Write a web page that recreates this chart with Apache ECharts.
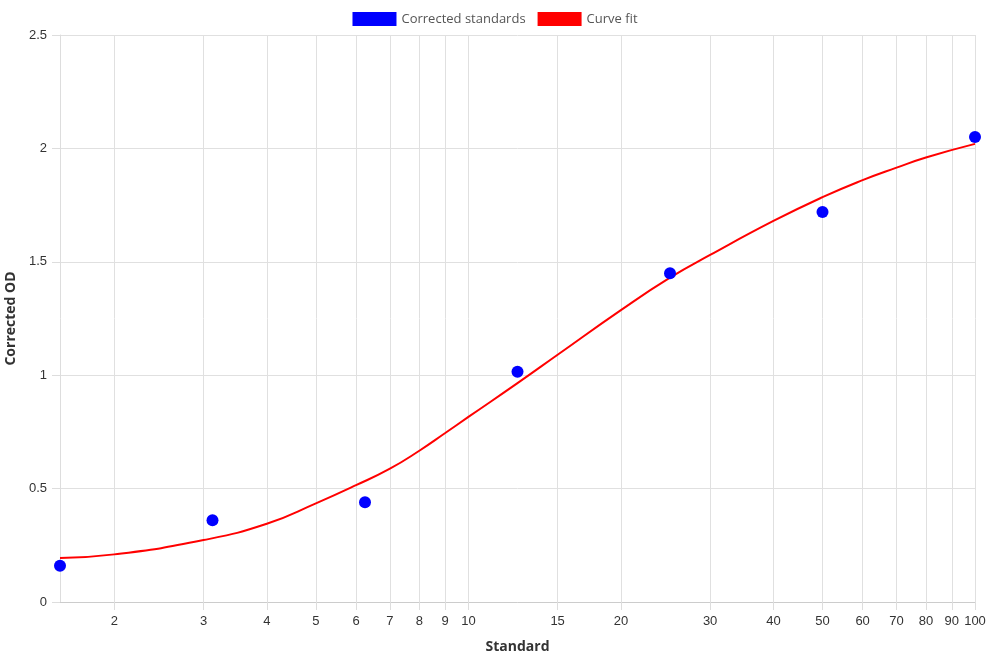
<!DOCTYPE html>
<html>
<head>
<meta charset="utf-8">
<script src="https://cdn.jsdelivr.net/npm/echarts@6/dist/echarts.min.js"></script>
<style>
  html, body { margin: 0; padding: 0; background: #fff; }
  #chart { width: 990px; height: 660px; }
</style>
</head>
<body>
<div id="chart"></div>
<script>
// standards (x) and corrected OD (y)
var stdX = [1.5625, 3.125, 6.25, 12.5, 25, 50, 100];
var stdY = [0.16, 0.36, 0.44, 1.015, 1.45, 1.72, 2.05];

// curve fit
var fitX = [1.5625, 2, 3, 4, 5, 6, 7, 8, 9, 10, 12.5, 15, 20, 25, 30, 40, 50, 60, 70, 80, 100];
var fitY = [0.194, 0.21, 0.273, 0.345, 0.435, 0.515, 0.588, 0.667, 0.745, 0.816, 0.965, 1.09, 1.287, 1.43, 1.53, 1.68, 1.785, 1.86, 1.915, 1.96, 2.02];

var xTicks = [2, 3, 4, 5, 6, 7, 8, 9, 10, 15, 20, 30, 40, 50, 60, 70, 80, 90, 100];

var chart = echarts.init(document.getElementById('chart'));

var labelFont = 'Liberation Sans';
var titleFont = 'Open Sans';

var option = {
    animation: false,
    legend: {
        top: 7,
        left: 'center',
        itemWidth: 44,
        itemHeight: 14,
        itemGap: 12,
        textStyle: { fontFamily: titleFont, fontSize: 13, color: '#555' },
        data: [
            { name: 'Corrected standards', icon: 'rect', itemStyle: { color: '#0000ff', opacity: 1 } },
            { name: 'Curve fit', icon: 'rect', itemStyle: { color: '#ff0000', opacity: 1 } }
        ]
    },
    grid: { left: 60, right: 15, top: 35, bottom: 58, outerBoundsMode: 'none' },
    xAxis: {
        type: 'log',
        min: 1.5625,
        max: 100,
        name: 'Standard',
        nameLocation: 'middle',
        nameGap: 38,
        nameTextStyle: { fontFamily: titleFont, fontWeight: 'bold', fontSize: 14, color: '#333' },
        axisLine: { lineStyle: { color: '#ccc' } },
        axisTick: { show: true, length: 8, lineStyle: { color: '#ddd' }, customValues: xTicks },
        axisLabel: { customValues: xTicks, fontFamily: labelFont, fontSize: 13, color: '#333', margin: 13 },
        splitLine: { show: true, lineStyle: { color: '#e0e0e0' } }
    },
    yAxis: {
        type: 'value',
        min: 0,
        max: 2.5,
        interval: 0.5,
        name: 'Corrected OD',
        nameLocation: 'middle',
        nameGap: 39,
        nameTextStyle: { fontFamily: titleFont, fontWeight: 'bold', fontSize: 14, color: '#333' },
        axisLine: { show: true, lineStyle: { color: '#ddd' } },
        axisTick: { show: true, length: 8, lineStyle: { color: '#ddd' } },
        axisLabel: { fontFamily: labelFont, fontSize: 13, color: '#333', margin: 13 },
        splitLine: { show: true, lineStyle: { color: '#e0e0e0' } }
    },
    series: [
        {
            name: 'Corrected standards',
            type: 'scatter',
            symbolSize: 12,
            itemStyle: { color: '#0000ff', opacity: 1 },
            data: stdX.map(function (x, i) { return [x, stdY[i]]; }),
            z: 3
        },
        {
            name: 'Curve fit',
            type: 'line',
            smooth: 0.5,
            showSymbol: false,
            lineStyle: { color: '#ff0000', width: 2 },
            itemStyle: { color: '#ff0000' },
            data: fitX.map(function (x, i) { return [x, fitY[i]]; }),
            z: 2
        }
    ]
};

chart.setOption(option);
</script>
</body>
</html>
